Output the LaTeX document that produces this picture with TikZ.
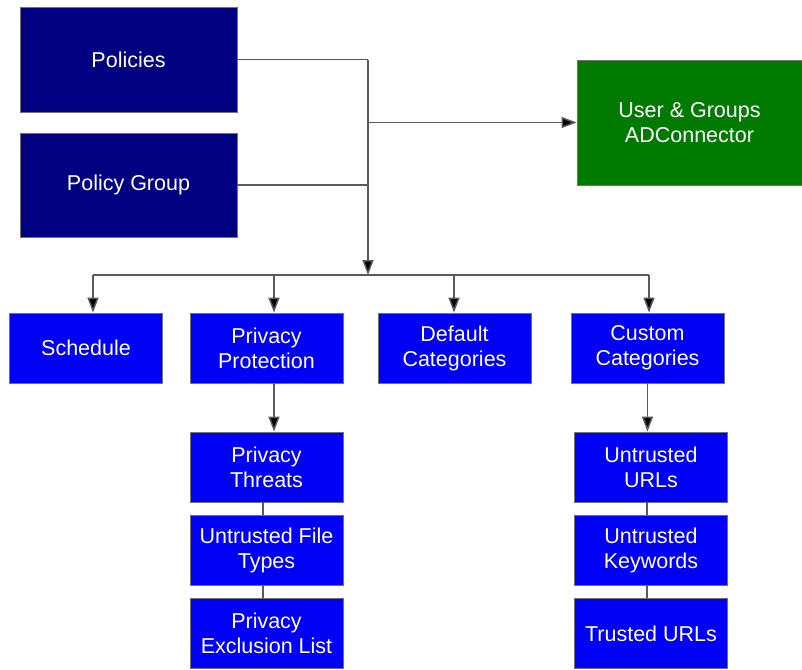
\documentclass[tikz,border=0pt]{standalone}
\usepackage{fontspec}
\setmainfont{Liberation Sans}
\usetikzlibrary{arrows.meta}
\definecolor{navybox}{HTML}{000080}
\definecolor{bluebox}{HTML}{0000F5}
\definecolor{greenbox}{HTML}{007A00}
\definecolor{linecol}{HTML}{5A5A5A}
\tikzset{
  box/.style={draw=black!55, line width=0.8pt, text=white, align=center,
    font=\fontsize{21.5}{25}\selectfont, inner sep=0pt},
  topbox/.style={box, fill=navybox, minimum width=217pt, minimum height=105pt},
  adbox/.style={box, fill=greenbox, minimum width=225pt, minimum height=125pt},
  catbox/.style={box, fill=bluebox, minimum width=153pt, minimum height=70pt},
  conn/.style={draw=linecol, line width=1.5pt},
  arr/.style={conn, -{Triangle[length=15pt,width=11pt,fill=black]}},
}
\begin{document}
\begin{tikzpicture}[x=1pt,y=-1pt]
\useasboundingbox (0,0) rectangle (802,669);
\fill[white] (0,0) rectangle (802,669);
% top level
\node[topbox] (pol) at (128.5,59.5) {Policies};
\node[topbox, minimum height=104pt] (pg) at (128.5,185) {Policy Group};
\node[adbox] (ad) at (689.5,122.5) {User \& Groups\\ADConnector};
% second row
\node[catbox] (sch) at (86,348) {Schedule};
\node[catbox] (pp) at (266.5,348) {Privacy\\Protection};
\node[catbox] (dc) at (454.5,348) {Default\\Categories};
\node[catbox] (cc) at (647.5,348) {Custom\\Categories};
% left column
\node[catbox] (pt) at (266.5,467) {Privacy\\Threats};
\node[catbox] (uf) at (266.5,550) {Untrusted File\\Types};
\node[catbox] (pe) at (266.5,633.5) {Privacy\\Exclusion List};
% right column
\node[catbox] (uu) at (651,467) {Untrusted\\URLs};
\node[catbox] (uk) at (651,550) {Untrusted\\Keywords};
\node[catbox] (tu) at (651,633.5) {Trusted URLs};
% junctions
\coordinate (j) at (368,275);
\coordinate (b1) at (93,275);
\coordinate (b2) at (274,275);
\coordinate (b3) at (454,275);
\coordinate (b4) at (649,275);
% connectors from top
\draw[conn] (pol.east) -- (pol.east -| j);
\draw[conn] (pg.east) -- (pg.east -| j);
\draw[arr] (pol.east -| j) -- (j);
\draw[arr] (j |- ad.west) -- (ad.west);
% bar
\draw[conn] (b1) -- (b4);
\draw[arr] (b1) -- (b1 |- sch.north);
\draw[arr] (b2) -- (b2 |- pp.north);
\draw[arr] (b3) -- (b3 |- dc.north);
\draw[arr] (b4) -- (b4 |- cc.north);
% sub connectors
\draw[arr] ([xshift=7.5pt]pp.south) -- ([xshift=7.5pt]pt.north);
\draw[conn] ([xshift=-3.5pt]pt.south) -- ([xshift=-3.5pt]uf.north);
\draw[conn] ([xshift=-3.5pt]uf.south) -- ([xshift=-3.5pt]pe.north);
\draw[arr] (cc.south) -- (cc.south |- uu.north);
\draw[conn] ([xshift=-4pt]uu.south) -- ([xshift=-4pt]uk.north);
\draw[conn] ([xshift=-4pt]uk.south) -- ([xshift=-4pt]tu.north);
\end{tikzpicture}
\end{document}
